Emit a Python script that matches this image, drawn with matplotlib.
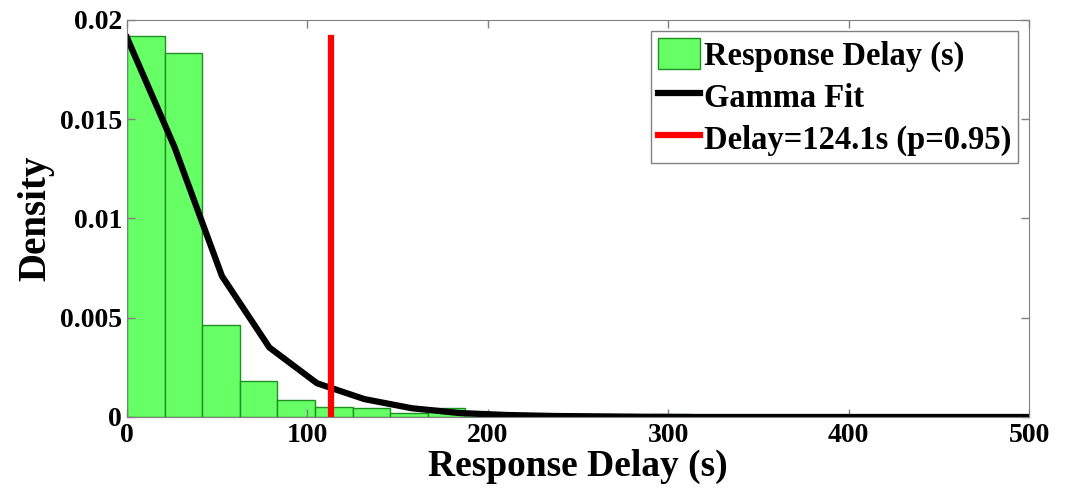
import numpy as np
import matplotlib
matplotlib.use("Agg")
import matplotlib.pyplot as plt

plt.rcParams["font.family"] = ["Liberation Serif", "DejaVu Serif"]
plt.rcParams["font.weight"] = "bold"

# histogram of response delay (24 bins over 0-500 s)
bin_edges = [0, 20.83, 41.67, 62.5, 83.33, 104.17, 125, 145.83, 166.67, 187.5,
             208.33, 229.17, 250, 270.83, 291.67, 312.5, 333.33, 354.17, 375,
             395.83, 416.67, 437.5, 458.33, 479.17, 500]
bin_density = [0.0192, 0.01835, 0.00462, 0.00181, 0.00086, 0.0005, 0.00047,
               0.00022, 0.00047, 0.0001, 0.0001, 0.0001, 0.0001, 0.0001,
               0.00015, 0, 0, 0, 0, 0, 0, 0, 0, 0]

# gamma fit curve
fit_x = [0, 26.3, 52.6, 78.9, 105.3, 131.6, 157.9, 184.2, 210.5, 236.8,
         263.2, 289.5, 315.8, 342.1, 368.4, 394.7, 421.1, 447.4, 473.7, 500]
fit_y = [0.0191, 0.0136, 0.0071, 0.0035, 0.0017, 0.0009, 0.00044, 0.0002,
         0.0001, 0.00005, 0.00003, 0.00001, 0, 0, 0, 0, 0, 0, 0, 0]

delay_x = 113
delay_top = 0.0191

fig = plt.figure(figsize=(10.65, 4.95), dpi=100)
ax = fig.add_axes([0.1193, 0.1576, 0.8469, 0.8020])

ax.bar(bin_edges[:-1], bin_density, width=np.diff(bin_edges), align="edge",
       color="#66ff66", edgecolor="#1f8f1f", linewidth=1,
       label="Response Delay (s)", zorder=1)
ax.plot(fit_x, fit_y, color="black", linewidth=4.5, label="Gamma Fit", zorder=2)
ax.plot([delay_x, delay_x], [0, delay_top], color="red", linewidth=4.5,
        label="Delay=124.1s (p=0.95)", zorder=3)

ax.set_xlim(0, 500)
ax.set_ylim(0, 0.02)
ax.set_xticks([0, 100, 200, 300, 400, 500])
ax.set_yticks([0, 0.005, 0.01, 0.015, 0.02])
ax.set_yticklabels(["0", "0.005", "0.01", "0.015", "0.02"])
ax.tick_params(direction="in", top=True, right=True, labelsize=20,
               color="#808080", length=6, width=1)
ax.tick_params(axis="x", pad=4)
for lab in ax.get_xticklabels() + ax.get_yticklabels():
    lab.set_fontweight("bold")
for s in ax.spines.values():
    s.set_color("#808080")

ax.set_xlabel("Response Delay (s)", fontsize=27, fontweight="bold", labelpad=1)
ax.set_ylabel("Density", fontsize=28, fontweight="bold", labelpad=4)

handles, labels = ax.get_legend_handles_labels()
order = [2, 0, 1]
leg = ax.legend([handles[i] for i in order], [labels[i] for i in order],
                loc="upper right", fontsize=23.5, handlelength=1.3,
                handleheight=1.1, handletextpad=0.1, borderpad=0.2,
                labelspacing=0.25, fancybox=False, framealpha=1,
                borderaxespad=0.35)
leg.get_frame().set_edgecolor("#808080")
leg.get_frame().set_linewidth(1)
for t in leg.get_texts():
    t.set_fontweight("bold")

fig.savefig("out.png", dpi=100)
